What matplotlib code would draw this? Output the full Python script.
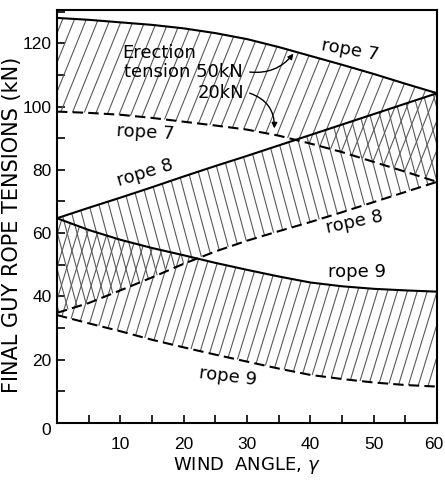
import numpy as np
import matplotlib
matplotlib.use('Agg')
from matplotlib import pyplot as plt
from matplotlib.collections import LineCollection
from matplotlib import transforms

# wind angle (deg) and final rope tensions (kN)
# *_50 = erection tension 50kN (solid), *_20 = erection tension 20kN (dashed)
gamma = [0, 5, 10, 15, 20, 25, 30, 35, 40, 45, 50, 55, 60]
rope7_50 = [128.0, 127.4, 126.6, 125.8, 124.7, 123.2, 121.3, 118.8, 116.0, 113.2, 110.3, 107.2, 104.2]
rope7_20 = [98.4, 98.0, 97.4, 96.4, 95.2, 94.0, 92.7, 90.8, 88.3, 85.6, 82.5, 79.4, 76.2]
rope8_50 = [64.7, 68.0, 71.2, 74.5, 77.9, 81.2, 84.4, 87.7, 91.0, 94.3, 97.6, 100.9, 104.2]
rope8_20 = [34.8, 37.9, 41.9, 46.0, 50.3, 54.2, 57.6, 60.6, 63.5, 66.6, 69.8, 73.0, 76.2]
rope9_50 = [64.7, 61.0, 57.9, 55.3, 53.0, 50.6, 48.4, 46.3, 44.4, 43.2, 42.4, 41.9, 41.5]
rope9_20 = [34.1, 31.5, 29.0, 26.3, 23.9, 21.6, 19.4, 17.2, 15.2, 13.9, 12.8, 12.0, 11.5]

xticks = [10, 20, 30, 40, 50, 60]
yticks = [0, 20, 40, 60, 80, 100, 120]

W, H = 445, 482
XMAX, YMAX = 60, 130.5


def hatch_band(ax, x, lo, hi, angle, step):
    # band outline (no face), then parallel lines clipped to it
    poly = ax.fill_between(x, lo, hi, facecolor='none', edgecolor='none')
    bb = ax.get_position()
    sx = bb.width * W / XMAX   # px per x unit
    sy = bb.height * H / YMAX  # px per y unit
    t = np.deg2rad(angle)
    d = np.array([np.cos(t), np.sin(t)])
    n = np.array([-np.sin(t), np.cos(t)])
    segs = []
    for k in np.arange(-800, 800, step):
        p0 = n * k - d * 1000
        p1 = n * k + d * 1000
        segs.append([(p0[0] / sx, p0[1] / sy), (p1[0] / sx, p1[1] / sy)])
    lc = LineCollection(segs, colors='0.35', linewidths=0.8)
    ax.add_collection(lc)
    lc.set_clip_path(poly.get_paths()[0], ax.transData)


fig = plt.figure(figsize=(W / 100, H / 100), dpi=100)
ax = fig.add_axes([57 / W, 1 - 423 / H, 380 / W, 413 / H])
ax.set_xlim(0, XMAX)
ax.set_ylim(0, YMAX)

hatch_band(ax, gamma, rope7_20, rope7_50, 68, 11)
hatch_band(ax, gamma, rope8_20, rope8_50, 105, 9.5)
hatch_band(ax, gamma, rope9_20, rope9_50, 73, 9.5)

dash = (0, (5, 2.5))
for ys in (rope7_50, rope8_50, rope9_50):
    ax.plot(gamma, ys, color='k', lw=1.5, solid_capstyle='butt')
for ys in (rope7_20, rope8_20, rope9_20):
    ax.plot(gamma, ys, color='k', lw=1.5, linestyle=dash)

fs = 13
ax.text(46.3, 117.8, 'rope 7', fontsize=fs, rotation=-10, ha='center', va='center')
ax.text(13.9, 91.9, 'rope 7', fontsize=fs, rotation=-3, ha='center', va='center')
ax.text(13.9, 79.0, 'rope 8', fontsize=fs, rotation=17, ha='center', va='center')
ax.text(47.0, 63.5, 'rope 8', fontsize=fs, rotation=12, ha='center', va='center')
ax.text(47.4, 47.7, 'rope 9', fontsize=fs, ha='center', va='center')
ax.text(27.0, 14.8, 'rope 9', fontsize=fs, rotation=-7, ha='center', va='center')

ax.text(10.3, 116.8, 'Erection', fontsize=fs, ha='left', va='center')
ax.text(10.6, 110.8, 'tension 50kN', fontsize=fs, ha='left', va='center')
ax.text(29.5, 104.2, '20kN', fontsize=fs, ha='right', va='center')
ax.annotate('', xy=(37.6, 117.4), xytext=(30.0, 111.0),
            arrowprops=dict(arrowstyle='-|>', color='k', lw=1.0,
                            connectionstyle='arc3,rad=0.3', mutation_scale=8))
ax.annotate('', xy=(34.3, 92.2), xytext=(30.0, 104.5),
            arrowprops=dict(arrowstyle='-|>', color='k', lw=1.0,
                            connectionstyle='arc3,rad=-0.4', mutation_scale=8))

ax.set_xticks(xticks)
ax.set_xticks(np.arange(0, 61, 5), minor=True)
ax.set_yticks(yticks)
ax.set_yticks(np.arange(0, 131, 10), minor=True)
ax.tick_params(which='both', direction='in', length=6, width=1.2,
               labelsize=12.5, labelfontfamily='Liberation Sans')
ax.tick_params(axis='x', pad=10)
ax.tick_params(axis='y', pad=4)
ax.yaxis.get_major_ticks()[0].label1.set_verticalalignment('top')
# last x label sits on the figure edge: nudge it in a little
lab60 = ax.xaxis.get_major_ticks()[-1].label1
lab60.set_transform(lab60.get_transform() +
                    transforms.ScaledTranslation(-3 / 100, 0, fig.dpi_scale_trans))
for s in ax.spines.values():
    s.set_linewidth(1.5)

ax.set_xlabel('WIND  ANGLE, $\\gamma$', fontsize=13, labelpad=2)
ax.set_ylabel('FINAL GUY ROPE TENSIONS (kN)', fontsize=15)
ax.yaxis.set_label_coords(-0.092, 0.479)

fig.savefig('out.png', dpi=100)
